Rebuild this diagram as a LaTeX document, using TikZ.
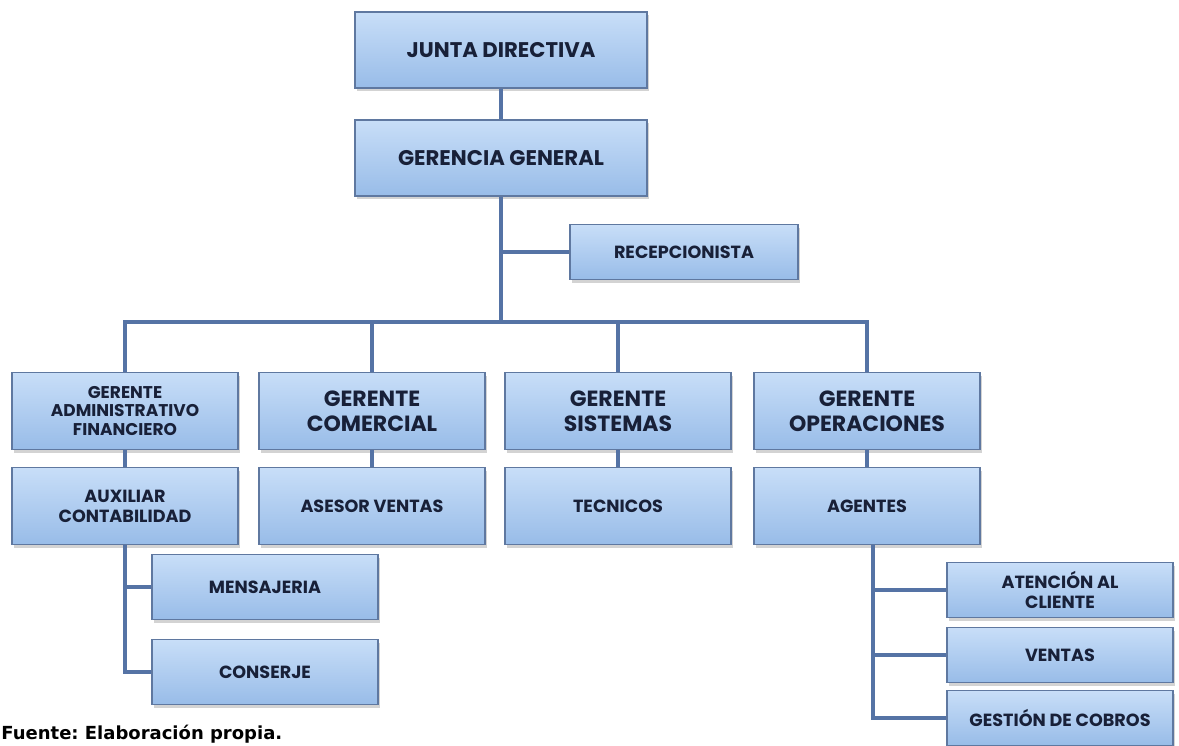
\documentclass[tikz,border=0pt]{standalone}
\usepackage{fontspec}
\usetikzlibrary{shadows}
\newfontfamily\gotica{Poppins}
\newfontfamily\fuente{DejaVu Sans}
\definecolor{cajaalta}{RGB}{200,222,248}
\definecolor{cajabaja}{RGB}{152,188,232}
\definecolor{borde}{RGB}{95,120,160}
\definecolor{texto}{RGB}{24,32,56}
\definecolor{linea}{RGB}{85,115,165}
\tikzset{
  cargo/.style={draw=borde, line width=0.8pt, top color=cajaalta, bottom color=cajabaja,
    drop shadow={shadow xshift=1.2pt, shadow yshift=-1.5pt, opacity=0.35},
    align=center, inner sep=1pt, text=texto, font=\gotica\bfseries\fontsize{8.8}{10}\selectfont},
  grande/.style={cargo, minimum width=146pt, minimum height=38pt, font=\gotica\bfseries\fontsize{10.6}{12}\selectfont},
  medio/.style={cargo, minimum width=113pt, minimum height=38.5pt},
  chico/.style={cargo, minimum width=113pt, minimum height=27.5pt},
  enlace/.style={draw=linea, line width=2pt}
}
\begin{document}
\begin{tikzpicture}[x=0.5pt, y=-0.5pt]
    % marco de la imagen
    \useasboundingbox (0,0) rectangle (1179,745);
    % Draw direccion
    \node[grande] (junta) at (501,50) {JUNTA DIRECTIVA};
    \node[grande] (gerencia) at (501,158) {GERENCIA GENERAL};
    \node[chico, minimum width=114pt] (recep) at (684,252) {RECEPCIONISTA};
    % Draw gerentes
    \node[medio, font=\gotica\bfseries\fontsize{8.5}{9.4}\selectfont] (adm) at (125,411) {GERENTE\\ADMINISTRATIVO\\FINANCIERO};
    \node[medio, font=\gotica\bfseries\fontsize{11}{12.5}\selectfont] (comer) at (372,411) {GERENTE\\COMERCIAL};
    \node[medio, font=\gotica\bfseries\fontsize{11}{12.5}\selectfont] (siste) at (618,411) {GERENTE\\SISTEMAS};
    \node[medio, font=\gotica\bfseries\fontsize{11}{12.5}\selectfont] (opera) at (867,411) {GERENTE\\OPERACIONES};
    % Draw auxiliares
    \node[medio] (aux) at (125,506) {AUXILIAR\\CONTABILIDAD};
    \node[medio] (asesor) at (372,506) {ASESOR VENTAS};
    \node[medio] (tecni) at (618,506) {TECNICOS};
    \node[medio] (agen) at (867,506) {AGENTES};
    \node[cargo, minimum width=113pt, minimum height=32.5pt] (mens) at (265,587) {MENSAJERIA};
    \node[cargo, minimum width=113pt, minimum height=32.5pt] (conse) at (265,672) {CONSERJE};
    \node[chico] (aten) at (1060,590) {ATENCIÓN AL\\CLIENTE};
    \node[chico] (venta) at (1060,655) {VENTAS};
    \node[chico] (cobro) at (1060,718) {GESTIÓN DE COBROS};
    % Draw enlaces
    \coordinate (bus) at (501,322);
    \coordinate (eje) at (873,545);
    \begin{scope}[on background layer/.try]
    \draw[enlace] (junta) -- (gerencia);
    \draw[enlace] (gerencia) -- (bus);
    \draw[enlace] (gerencia.south |- recep) -- (recep.west);
    \draw[enlace] (adm.north) |- (bus) -| (opera.north);
    \draw[enlace] (comer.north) -- (comer.north |- bus);
    \draw[enlace] (siste.north) -- (siste.north |- bus);
    \draw[enlace] (adm) -- (aux);
    \draw[enlace] (comer) -- (asesor);
    \draw[enlace] (siste) -- (tecni);
    \draw[enlace] (opera) -- (agen);
    \draw[enlace] (aux.south) |- (mens.west);
    \draw[enlace] (aux.south) |- (conse.west);
    \draw[enlace] (eje) |- (aten.west);
    \draw[enlace] (eje) |- (venta.west);
    \draw[enlace] (eje) |- (cobro.west);
    \end{scope}
    % fuente
    \node[anchor=base west, inner sep=0pt, font=\fuente\bfseries\fontsize{9}{10}\selectfont\frenchspacing] (nota) at (1,739) {Fuente: Elaboración propia.};
\end{tikzpicture}
\end{document}
